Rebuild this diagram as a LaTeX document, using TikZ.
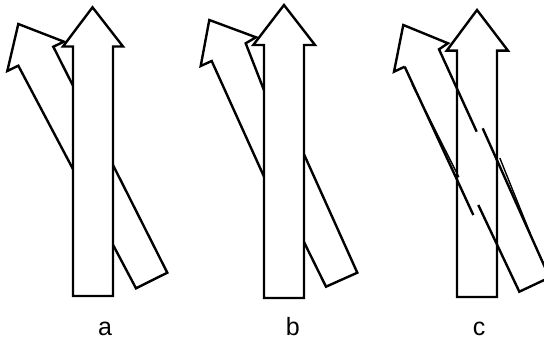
\documentclass[tikz,border=0pt]{standalone}
\usepackage{fontspec}
\setmainfont{Liberation Sans}
\begin{document}
\begin{tikzpicture}[x=1pt,y=-1pt,
  outline/.style={draw=black,line width=2.4pt,line join=miter,line cap=butt},
  solid arrow/.style={outline,fill=white},
  thin double/.style={draw=black,line width=1.4pt},
  label text/.style={font=\fontsize{25}{27}\selectfont,anchor=base,inner sep=0pt}]
\useasboundingbox (0,0) rectangle (544,339);
\clip (0,0) rectangle (544,339);

% ---- panel a: tilted arrow wholly behind the vertical one
\draw[solid arrow] (18.3,24) -- (64,41.7) -- (53.3,46.7) -- (167.3,272.7) -- (136,288.3) -- (18.3,65.7) -- (7.3,71) -- cycle;
\draw[solid arrow] (73,296) -- (73,46.5) -- (63,46.5) -- (92.5,7.3) -- (123,46.5) -- (113,46.5) -- (113,296) -- cycle;

% ---- panel b: the two visible parts of the tilted arrow are offset
\draw[solid arrow] (200.7,66) -- (209.3,20) -- (256,37.3) -- (245.7,43.3) -- (280,131.3) -- (280,212) -- (211.7,61) -- cycle;
\draw[solid arrow] (290,123.2) -- (357.3,272.7) -- (326,286.7) -- (290,213.7) -- cycle;
\draw[solid arrow] (264,298) -- (264,45) -- (253.3,45) -- (284,5) -- (315,45) -- (304,45) -- (304,298) -- cycle;

% ---- panel c: outlines only, edges seen through the vertical arrow
\draw[outline] (457,297) -- (457,50.7) -- (446.7,50.7) -- (477,10) -- (508,50.7) -- (497,50.7) -- (497,297) -- cycle;
\draw[outline] (404.7,66.7) -- (394,71.7) -- (403.3,25) -- (448,43.3) -- (439,49.3) -- (476.7,131.7);
\draw[outline] (404.7,66.7) -- (473.3,215);
\draw[outline] (482.7,128.3) -- (549.5,277.5) -- (519.3,291.7) -- (478.3,205);
\draw[thin double] (412,84) -- (458.8,177);
\draw[thin double] (499.8,158) -- (530,233);

% ---- labels
\node[label text] (la) at (105,335) {a};
\node[label text] (lb) at (292.7,335) {b};
\node[label text] (lc) at (479,335) {c};
\end{tikzpicture}
\end{document}
